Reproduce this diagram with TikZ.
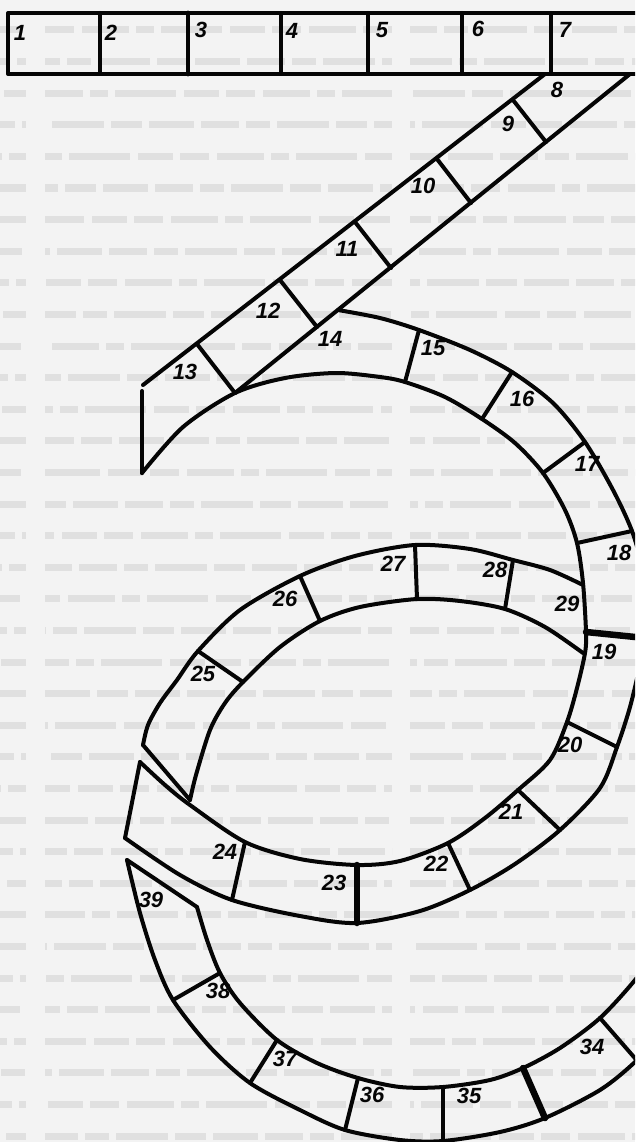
\documentclass[tikz,border=0pt]{standalone}
\usepackage{fontspec}
\setmainfont{Liberation Sans}
\newfontfamily\numfont{Liberation Sans Bold Italic}
\usetikzlibrary{calc}
\definecolor{paper}{RGB}{243,243,243}
\definecolor{ghost}{RGB}{224,224,224}
\definecolor{ink}{RGB}{5,5,5}
\tikzset{
  board/.style={draw=ink, line width=4pt, line cap=round, line join=round},
  thickdiv/.style={draw=ink, line width=6.5pt, line cap=round},
  num/.style={font=\numfont\fontsize{22}{22}\selectfont, text=ink, inner sep=0pt},
  ghosta/.style={draw=ghost, line width=7pt, dash pattern=on 38pt off 7pt on 24pt off 7pt on 52pt off 7pt on 31pt off 7pt on 45pt off 7pt},
  ghostb/.style={draw=ghost, line width=7pt, dash pattern=on 29pt off 8pt on 47pt off 7pt on 18pt off 7pt on 61pt off 8pt on 35pt off 7pt},
}
\begin{document}
\begin{tikzpicture}[x=1pt,y=-1pt]
\useasboundingbox (0,0) rectangle (635,1142);
\fill[paper] (0,0) rectangle (635,1142);
\begin{scope}
\clip (0,0) rectangle (635,1142);
% faint printed lines of the page behind the board
\foreach \r in {0,...,35}{
  \pgfmathsetmacro\yy{30+\r*31.6}
  \pgfmathsetmacro\pa{mod(\r*23,200)}
  \pgfmathsetmacro\pb{mod(\r*31+11,200)}
  \pgfmathsetmacro\pc{mod(\r*13+5,200)}
  \ifodd\r
    \draw[ghosta, dash phase=\pa pt] (45,\yy) -- (392,\yy);
    \draw[ghostb, dash phase=\pb pt] (410,\yy) -- (640,\yy);
  \else
    \draw[ghostb, dash phase=\pa pt] (45,\yy) -- (392,\yy);
    \draw[ghosta, dash phase=\pb pt] (410,\yy) -- (640,\yy);
  \fi
  \draw[ghosta, dash phase=\pc pt] (-10,\yy) -- (26,\yy);
}
% top bar 1-7
\draw[board] (650,13) -- (8,13) -- (8,74) -- (650,74);
\foreach \x in {100,281,368,462,551} \draw[board] (\x,13) -- (\x,74);
\draw[board, line width=4.8pt] (188,13) -- (188,74);
% diagonal 8-13
\draw[board] (545,74) -- (143,385);
\draw[board] (630,74) -- (235,393);
\draw[board] (142,391) -- (142,473);
\draw[board] (513,100) -- (546,142);
\draw[board] (437,159) -- (471,203);
\draw[board] (355,222) -- (391,268);
\draw[board] (280,280) -- (317,327);
\draw[board] (197,344) -- (235,393);
% ring 14-18 outer edge
\draw[board] plot[smooth] coordinates {(338,310) (380,318) (419,330) (470,350) (512,372) (553,403) (585,442) (613,490) (632,531) (645,575)};
% the long spiral line
\draw[board] plot[smooth] coordinates {(142,473) (183,427) (235,393) (285,378) (336,373) (380,377) (405,382) (445,397) (482,419) (515,443) (543,473) (565,510) (577,543) (583,583) (586,632) (585,653) (577,688) (567,722) (550,760) (518,790) (485,818) (448,843) (400,861) (357,865) (300,859) (245,842) (190,805) (165,785) (140,762)};
% ring 14-18 dividers
\draw[board] (419,330) -- (405,382);
\draw[board] (512,372) -- (482,419);
\draw[board] (585,442) -- (543,473);
\draw[board] (632,531) -- (577,543);
\draw[thickdiv] (586,632) -- (645,638);
% band 19-24 outer edge
\draw[board] plot[smooth] coordinates {(648,625) (640,665) (630,707) (617,747) (600,788) (560,830) (515,864) (470,890) (420,911) (357,923) (300,916) (232,900) (180,875) (125,838)};
\draw[board] (140,762) -- (125,838);
\draw[board] (567,722) -- (617,747);
\draw[board] (518,790) -- (560,830);
\draw[board] (448,843) -- (470,890);
\draw[thickdiv] (357,865) -- (357,923);
\draw[board] (245,842) -- (232,900);
% band 25-29
\draw[board] plot[smooth] coordinates {(143,745) (148,725) (160,703) (177,680) (198,651) (240,610) (300,576) (355,556) (415,545) (470,549) (513,560) (550,570) (583,585)};
\draw[board] plot[smooth] coordinates {(190,800) (196,775) (210,730) (225,703) (243,682) (280,647) (320,621) (360,607) (417,599) (460,601) (505,609) (545,627) (583,653)};
\draw[board] (143,745) -- (190,800);
\draw[board] (198,651) -- (243,682);
\draw[board] (300,576) -- (320,621);
\draw[board] (415,545) -- (417,599);
\draw[board] (513,560) -- (505,609);
% band 34-39
\draw[board] plot[smooth] coordinates {(127,860) (140,913) (155,960) (173,1000) (210,1047) (250,1083) (300,1110) (345,1130) (400,1140) (443,1141) (500,1132) (545,1118) (600,1090) (635,1062) (665,1030)};
\draw[board] plot[smooth] coordinates {(197,907) (207,940) (220,973) (240,1003) (277,1040) (317,1063) (358,1078) (400,1087) (443,1087) (490,1080) (523,1068) (560,1048) (600,1018) (635,980) (660,945)};
\draw[board] (127,860) -- (197,907);
\draw[board] (173,1000) -- (220,973);
\draw[board] (250,1083) -- (277,1040);
\draw[board] (345,1130) -- (358,1078);
\draw[board] (443,1141) -- (443,1087);
\draw[thickdiv] (545,1118) -- (523,1068);
\draw[board] (640,1064) -- (600,1018);
\end{scope}
% labels
\node[num] (n1) at (20,33) {1};
\node[num] (n2) at (111,33) {2};
\node[num] (n3) at (201,30) {3};
\node[num] (n4) at (292,31) {4};
\node[num] (n5) at (382,30) {5};
\node[num] (n6) at (478,29) {6};
\node[num] (n7) at (565,30) {7};
\node[num] (n8) at (557,90) {8};
\node[num] (n9) at (508,124) {9};
\node[num] (n10) at (423,186) {10};
\node[num] (n11) at (347,249) {11};
\node[num] (n12) at (268,311) {12};
\node[num] (n13) at (185,372) {13};
\node[num] (n14) at (330,339) {14};
\node[num] (n15) at (433,348) {15};
\node[num] (n16) at (522,399) {16};
\node[num] (n17) at (587,464) {17};
\node[num] (n18) at (619,553) {18};
\node[num] (n19) at (604,652) {19};
\node[num] (n20) at (570,745) {20};
\node[num] (n21) at (511,812) {21};
\node[num] (n22) at (436,864) {22};
\node[num] (n23) at (334,883) {23};
\node[num] (n24) at (225,852) {24};
\node[num] (n25) at (203,674) {25};
\node[num] (n26) at (285,599) {26};
\node[num] (n27) at (393,564) {27};
\node[num] (n28) at (495,570) {28};
\node[num] (n29) at (567,604) {29};
\node[num] (n34) at (592,1047) {34};
\node[num] (n35) at (469,1096) {35};
\node[num] (n36) at (372,1095) {36};
\node[num] (n37) at (285,1059) {37};
\node[num] (n38) at (218,991) {38};
\node[num] (n39) at (151,900) {39};
\end{tikzpicture}
\end{document}
